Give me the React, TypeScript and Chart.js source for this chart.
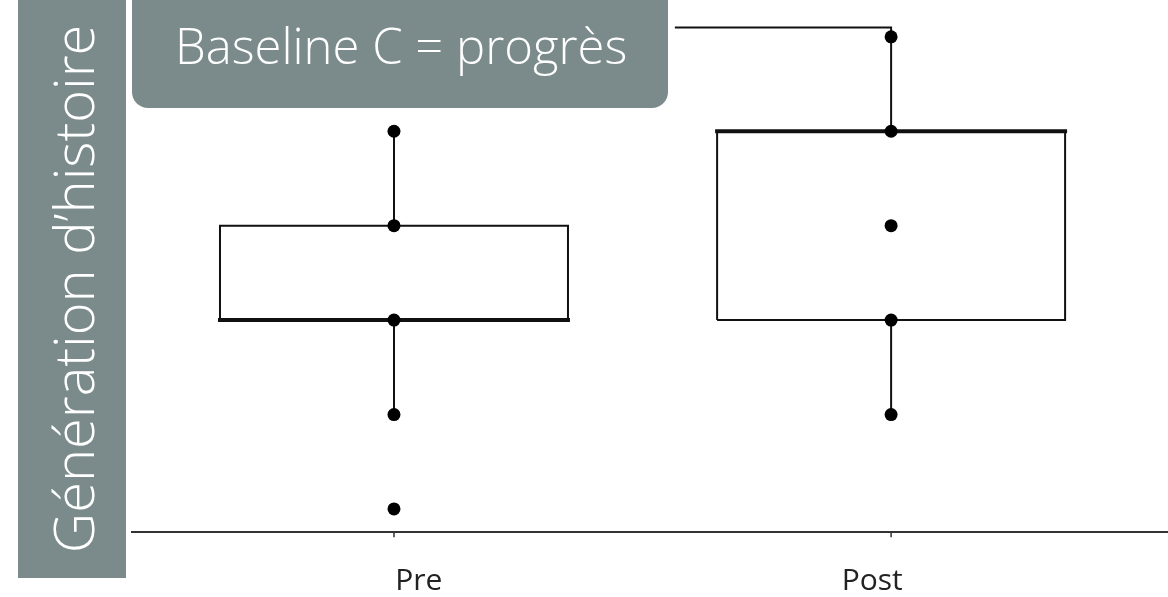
import React, { useEffect, useRef } from "react";
import { Chart, registerables } from "chart.js";

Chart.register(...registerables);

// ---- data ----
const categories = ["Pre", "Post"];
const categoryPositions = [0, 1];
const labelPositions = [0.05, 0.962];
const q1 = [3, 3];
const q3 = [4, 5];
const medians = [3, 5];
const whiskerLow = [2, 2];
const whiskerHigh = [5, 6];
const prePoints = [1, 2, 3, 4, 5];
const postPoints = [2, 3, 4, 5, 6];
const connectorX = [0.565, 1];
const connectorY = 6.1;

const BOX_HALF = 0.35;
const Y_MIN = 0.756;
const Y_MAX = 6.39;
const X_MIN = -0.527;
const X_MAX = 1.557;
const GREY = "#7b8b8b";

const lineBase = {
  type: "line" as const,
  showLine: true,
  fill: false,
  tension: 0,
  pointRadius: 0,
  pointHoverRadius: 0,
  borderColor: "#111",
  borderJoinStyle: "miter" as const,
  order: 2,
};

export default function App() {
  const canvasRef = useRef<HTMLCanvasElement | null>(null);

  useEffect(() => {
    document.body.style.margin = "0";
    const canvas = canvasRef.current;
    if (!canvas) return;

    const datasets: any[] = [];
    categoryPositions.forEach((c, i) => {
      datasets.push({
        ...lineBase,
        borderWidth: 2,
        data: [
          { x: c - BOX_HALF, y: q1[i] },
          { x: c + BOX_HALF, y: q1[i] },
          { x: c + BOX_HALF, y: q3[i] },
          { x: c - BOX_HALF, y: q3[i] },
          { x: c - BOX_HALF, y: q1[i] },
        ],
      });
      datasets.push({
        ...lineBase,
        borderWidth: 4,
        borderCapStyle: "square",
        data: [
          { x: c - BOX_HALF, y: medians[i] },
          { x: c + BOX_HALF, y: medians[i] },
        ],
      });
      datasets.push({
        ...lineBase,
        borderWidth: 2,
        data: [
          { x: c, y: whiskerLow[i] },
          { x: c, y: q1[i] },
        ],
      });
      datasets.push({
        ...lineBase,
        borderWidth: 2,
        data: [
          { x: c, y: q3[i] },
          { x: c, y: whiskerHigh[i] },
        ],
      });
      datasets.push({
        ...lineBase,
        borderWidth: 1.5,
        borderColor: "#333",
        clip: false,
        data: [
          { x: c, y: Y_MIN },
          { x: c, y: Y_MIN - 0.055 },
        ],
      });
    });
    datasets.push({
      ...lineBase,
      borderWidth: 2,
      data: [
        { x: connectorX[0], y: connectorY },
        { x: connectorX[1], y: connectorY },
        { x: connectorX[1], y: whiskerHigh[1] },
      ],
    });
    const pts = [prePoints, postPoints];
    categoryPositions.forEach((c, i) => {
      datasets.push({
        type: "scatter",
        order: 0,
        pointRadius: 6.5,
        pointHoverRadius: 6.5,
        pointBackgroundColor: "#000",
        pointBorderWidth: 0,
        borderColor: "#000",
        data: pts[i].map((v) => ({ x: c, y: v })),
      });
    });

    const chart = new Chart(canvas, {
      type: "scatter",
      data: { datasets },
      options: {
        animation: false,
        responsive: false,
        devicePixelRatio: 1,
        layout: { autoPadding: false, padding: { left: 132, top: 0, right: 0, bottom: 0 } },
        plugins: {
          legend: { display: false },
          tooltip: { enabled: false },
          title: { display: false },
        },
        scales: {
          x: {
            type: "linear",
            min: X_MIN,
            max: X_MAX,
            grid: { display: false, drawTicks: false },
            border: { display: true, color: "#333", width: 2 },
            afterBuildTicks: (scale: any) => {
              scale.ticks = labelPositions.map((v) => ({ value: v }));
            },
            afterFit: (scale: any) => {
              scale.height = 65;
            },
            ticks: {
              autoSkip: false,
              maxRotation: 0,
              padding: 31,
              color: "#222",
              font: { family: "'Open Sans'", size: 30, weight: 400 },
              callback: (_v: any, i: number) => categories[i],
            },
          },
          y: {
            display: false,
            min: Y_MIN,
            max: Y_MAX,
          },
        },
      },
    });
    return () => chart.destroy();
  }, []);

  return (
    <div
      style={{
        position: "relative",
        width: 1168,
        height: 597,
        overflow: "hidden",
        background: "#fff",
        fontFamily: "'Open Sans', sans-serif",
      }}
    >
      <canvas
        ref={canvasRef}
        width={1168}
        height={597}
        style={{ position: "absolute", left: 0, top: 0, width: 1168, height: 597 }}
      />
      <div
        style={{
          position: "absolute",
          left: 18,
          top: 0,
          width: 108,
          height: 578,
          background: GREY,
        }}
      />
      <div
        style={{
          position: "absolute",
          left: 18 + 54 - 289,
          top: 289 - 54,
          width: 578,
          height: 108,
          transform: "rotate(-90deg)",
          display: "flex",
          alignItems: "center",
          justifyContent: "center",
          color: "#fff",
          fontSize: 56,
          fontWeight: 300,
          whiteSpace: "nowrap",
          lineHeight: 1,
        }}
      >
        Génération d’histoire
      </div>
      <div
        style={{
          position: "absolute",
          left: 132,
          top: -20,
          width: 536,
          height: 128,
          borderRadius: 16,
          background: GREY,
          color: "#fff",
          fontSize: 49,
          fontWeight: 300,
          lineHeight: 1,
          whiteSpace: "nowrap",
          boxSizing: "border-box",
          paddingLeft: 43,
          paddingTop: 41,
        }}
      >
        Baseline C = progrès
      </div>
    </div>
  );
}
